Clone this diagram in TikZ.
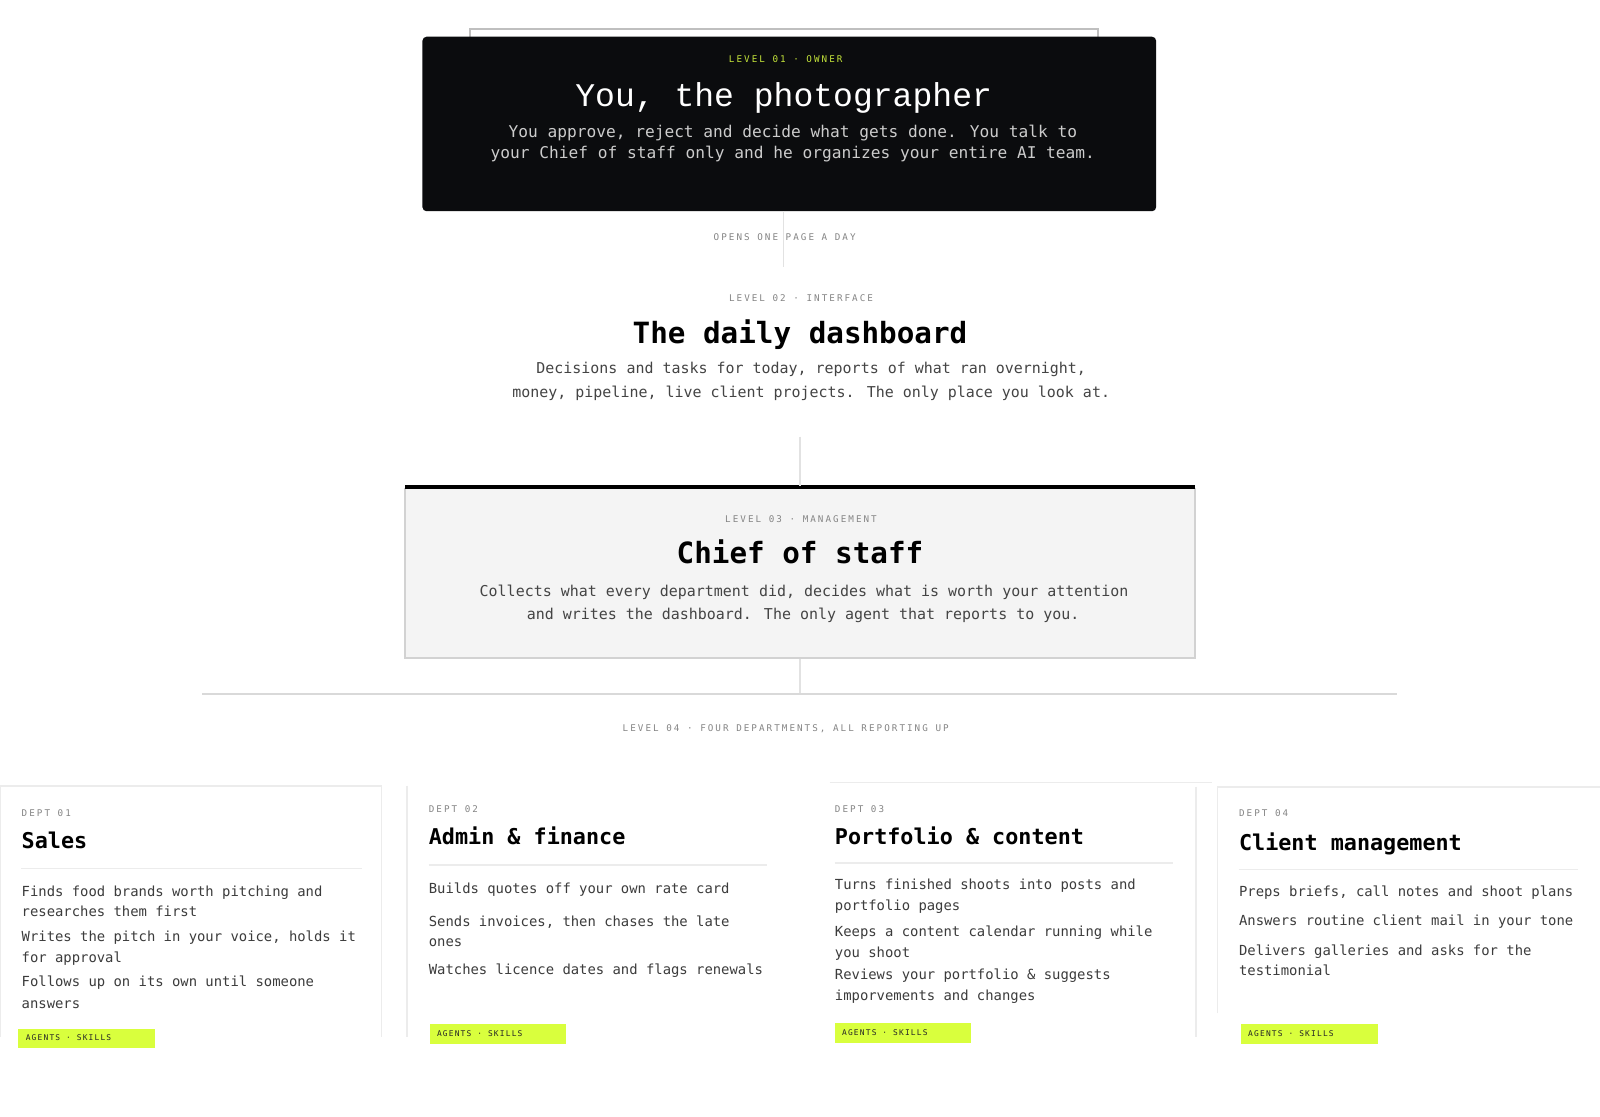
\documentclass[tikz,border=0pt]{standalone}
\usepackage{fontspec}
\setmainfont{DejaVu Sans Mono}
\newfontfamily\mono{DejaVu Sans Mono}
\newfontfamily\monolab[LetterSpace=22]{DejaVu Sans Mono}
\newfontfamily\monotag[LetterSpace=15]{DejaVu Sans Mono}
\newfontfamily\monolight{Liberation Mono}
\usetikzlibrary{fit}
\definecolor{ink}{HTML}{0B0C0E}
\definecolor{lime}{HTML}{D9FF3D}
\definecolor{limetxt}{HTML}{C4E43A}
\definecolor{labgray}{HTML}{858585}
\definecolor{bodygray}{HTML}{444444}
\definecolor{itemgray}{HTML}{3C3C3C}
\definecolor{softline}{HTML}{E2E2E2}
\definecolor{cardline}{HTML}{ECECEC}
\definecolor{chieffill}{HTML}{F4F4F4}
\definecolor{chiefline}{HTML}{D2D2D2}
\begin{document}
\begin{tikzpicture}[x=0.75pt,y=-0.75pt,
  lbl/.style={font={\monolab\fontsize{6.8}{8}\selectfont}, text=labgray, inner sep=0, anchor=base},
  lblw/.style={lbl, anchor=base west},
  bigtitle/.style={font={\mono\bfseries\fontsize{21.5}{24}\selectfont}, text=black, inner sep=0, anchor=base},
  depttitle/.style={font={\mono\bfseries\fontsize{16}{18}\selectfont}, text=black, inner sep=0, anchor=base west},
  bodyline/.style={font={\mono\fontsize{11.0}{14}\selectfont}, text=bodygray, inner sep=0, anchor=base},
  itemline/.style={font={\mono\fontsize{10.2}{12}\selectfont}, text=itemgray, inner sep=0, anchor=base west},
  ownbody/.style={font={\mono\fontsize{11.9}{14}\selectfont}, text=black!20, inner sep=0, anchor=base},
  tagbg/.style={fill=lime, inner sep=0, draw=none},
  tagtxt/.style={font={\monotag\fontsize{5.8}{7}\selectfont}, text=black!85, inner sep=0, anchor=base west},
  conn/.style={draw=softline, line width=1},
  cardedge/.style={draw=cardline, line width=1.2},
  sepline/.style={draw=cardline, line width=1.2}
]
\useasboundingbox (0,0) rectangle (1568,1094.6);
\fill[white] (0,0) rectangle (1568,1094.6);

% ---------- Level 01 ----------
\node[fit={(461,28)(1076,200)}, inner sep=0, draw=black!25, line width=1.5, fill=white] (ghost) {};
\node[fit={(414,36)(1133,207)}, inner sep=0, fill=ink, rounded corners=3] (owner) {};
\node[lbl, text=limetxt] (l1) at (770,61.5) {LEVEL 01 · OWNER};
\node[font={\monolight\fontsize{24.3}{28}\selectfont}, text=white, inner sep=0, anchor=base] (t1) at (768,104) {You, the photographer};
\node[ownbody] (o1) at (777,135) {You approve, reject and decide what gets done. You talk to};
\node[ownbody] (o2) at (777,155) {your Chief of staff only and he organizes your entire AI team.};

% connector owner -> dashboard
\coordinate (c1) at (768,207);
\coordinate (c2) at (768,262);
\draw[conn] (c1) -- (c2);
\node[lbl] (opens) at (769,235.5) {OPENS ONE PAGE A DAY};

% ---------- Level 02 ----------
\node[lbl] (l2) at (785,295.5) {LEVEL 02 · INTERFACE};
\node[bigtitle] (t2) at (784,337) {The daily dashboard};
\node[bodyline] (d1) at (795,366) {Decisions and tasks for today, reports of what ran overnight,};
\node[bodyline] (d2) at (795,390) {money, pipeline, live client projects. The only place you look at.};

% ---------- Level 03 ----------
\node[fit={(397,479)(1171,645)}, inner sep=0, fill=chieffill, draw=chiefline, line width=1] (chief) {};
\draw[black, line width=3.2] (397,477.5) -- (1171,477.5);
\coordinate (c3) at (784,428);
\coordinate (c4) at (784,476);
\draw[conn] (c3) -- (c4);
\node[lbl] (l3) at (785,512.5) {LEVEL 03 · MANAGEMENT};
\node[bigtitle] (t3) at (784,552) {Chief of staff};
\node[bodyline] (ch1) at (788,585) {Collects what every department did, decides what is worth your attention};
\node[bodyline] (ch2) at (787,607) {and writes the dashboard. The only agent that reports to you.};

\coordinate (c5) at (784,680);
\draw[conn] (chief.south) -- (c5);
\coordinate (h1) at (198,680);
\coordinate (h2) at (1369,680);
\draw[draw=black!15, line width=1.6] (h1) -- (h2);
\node[lbl] (l4) at (770,716.5) {LEVEL 04 · FOUR DEPARTMENTS, ALL REPORTING UP};

% ---------- Dept cards: edges ----------
\draw[cardedge] (0.6,1016) -- (0.6,770) -- (374,770) -- (374,1016);
\draw[cardedge] (399,770) -- (399,1016);
\draw[cardedge] (813,767) -- (1188,767);
\draw[cardedge] (1172,771) -- (1172,1016);
\draw[cardedge] (1193,993) -- (1193,771) -- (1568,771);

% ---------- Dept 01 ----------
\node[lblw] (d1l) at (21,800) {DEPT 01};
\node[depttitle] (d1t) at (21,832) {Sales};
\draw[sepline] (21,851) -- (355,851);
\node[itemline] (d1a) at (21,879) {Finds food brands worth pitching and};
\node[itemline] (d1b) at (21,898) {researches them first};
\node[itemline] (d1c) at (21,923) {Writes the pitch in your voice, holds it};
\node[itemline] (d1d) at (21,943) {for approval};
\node[itemline] (d1e) at (21,967) {Follows up on its own until someone};
\node[itemline] (d1f) at (21,988) {answers};
\node[tagbg, fit={(18,1008)(152,1027)}] (tag1) {};
\node[tagtxt] (tag1t) at (25,1020) {AGENTS · SKILLS};

% ---------- Dept 02 ----------
\node[lblw] (d2l) at (420,796) {DEPT 02};
\node[depttitle] (d2t) at (420,828) {Admin \& finance};
\draw[sepline] (420,848) -- (752,848);
\node[itemline] (d2a) at (420,876) {Builds quotes off your own rate card};
\node[itemline] (d2b) at (420,908) {Sends invoices, then chases the late};
\node[itemline] (d2c) at (420,928) {ones};
\node[itemline] (d2d) at (420,955) {Watches licence dates and flags renewals};
\node[tagbg, fit={(421,1004)(555,1023)}] (tag2) {};
\node[tagtxt] (tag2t) at (428,1016) {AGENTS · SKILLS};

% ---------- Dept 03 ----------
\node[lblw] (d3l) at (818,796) {DEPT 03};
\node[depttitle] (d3t) at (818,828) {Portfolio \& content};
\draw[sepline] (818,846) -- (1150,846);
\node[itemline] (d3a) at (818,872) {Turns finished shoots into posts and};
\node[itemline] (d3b) at (818,892) {portfolio pages};
\node[itemline] (d3c) at (818,918) {Keeps a content calendar running while};
\node[itemline] (d3d) at (818,938) {you shoot};
\node[itemline] (d3e) at (818,960) {Reviews your portfolio \& suggests};
\node[itemline] (d3f) at (818,980) {imporvements and changes};
\node[tagbg, fit={(818,1003)(952,1022)}] (tag3) {};
\node[tagtxt] (tag3t) at (825,1015) {AGENTS · SKILLS};

% ---------- Dept 04 ----------
\node[lblw] (d4l) at (1214,800) {DEPT 04};
\node[depttitle] (d4t) at (1214,833) {Client management};
\draw[sepline] (1214,852) -- (1546,852);
\node[itemline] (d4a) at (1214,879) {Preps briefs, call notes and shoot plans};
\node[itemline] (d4b) at (1214,907) {Answers routine client mail in your tone};
\node[itemline] (d4c) at (1214,936) {Delivers galleries and asks for the};
\node[itemline] (d4d) at (1214,956) {testimonial};
\node[tagbg, fit={(1216,1004)(1350,1023)}] (tag4) {};
\node[tagtxt] (tag4t) at (1223,1016) {AGENTS · SKILLS};
\end{tikzpicture}
\end{document}
